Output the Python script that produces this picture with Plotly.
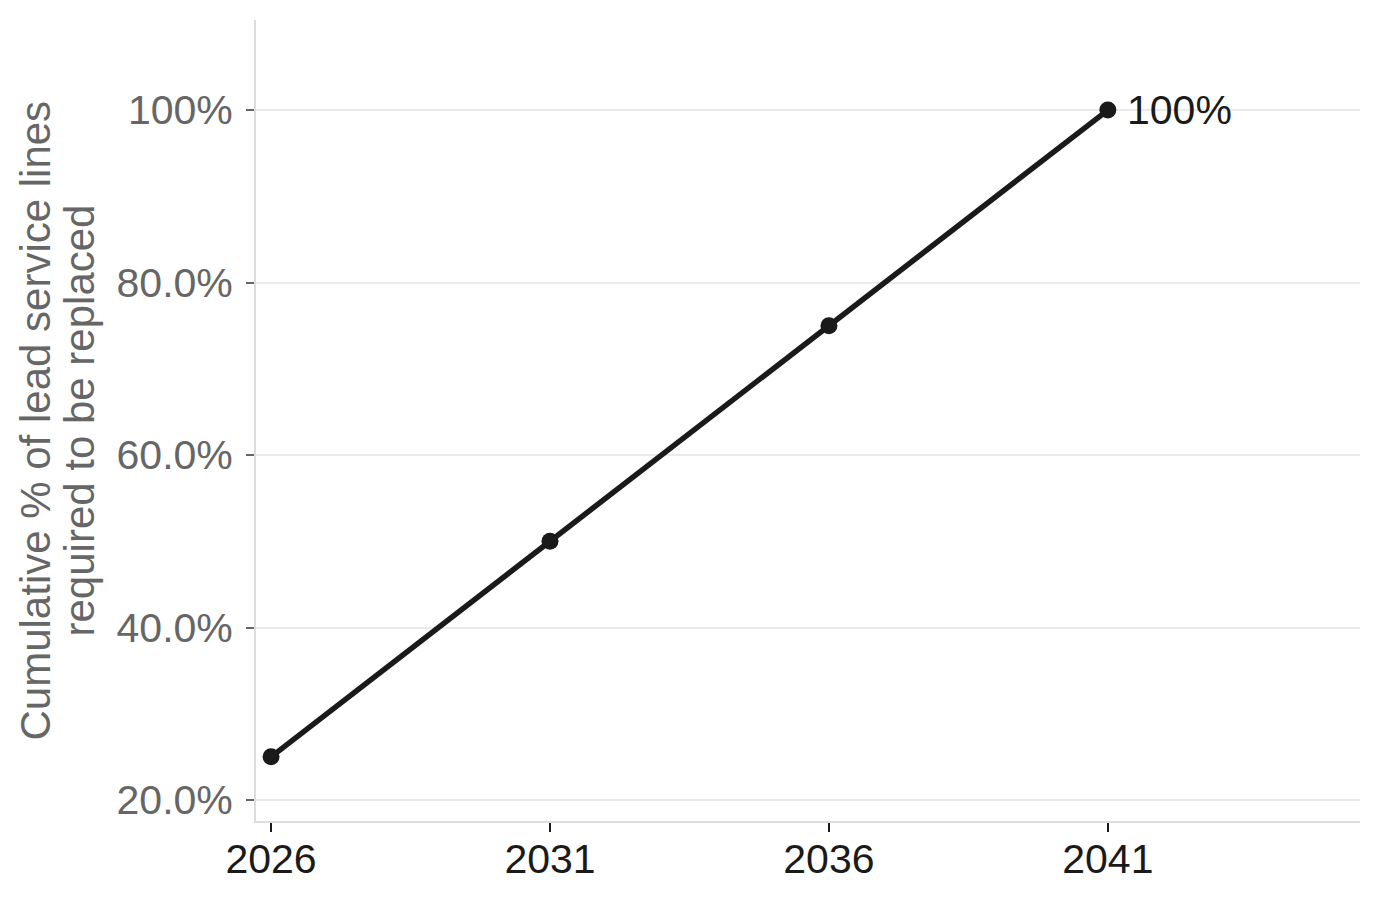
import plotly.graph_objects as go

# data
years = [2026, 2031, 2036, 2041]
cumulative_pct = [25, 50, 75, 100]
y_tick_vals = [20, 40, 60, 80, 100]
y_tick_text = ["20.0%", "40.0%", "60.0%", "80.0%", "100%"]
end_label = "100%"
y_title_lines = ["Cumulative % of lead service lines", "required to be replaced"]

font_family = "Liberation Sans, Arial, Helvetica, sans-serif"

fig = go.Figure()

fig.add_trace(go.Scatter(
    x=years,
    y=cumulative_pct,
    mode="lines+markers",
    line=dict(color="#1a1a1a", width=5.5),
    marker=dict(color="#1a1a1a", size=17),
    showlegend=False,
    hoverinfo="skip",
))

# label at the last point
fig.add_annotation(
    x=years[-1], y=cumulative_pct[-1],
    text=end_label,
    showarrow=False,
    xanchor="left", yanchor="middle",
    xshift=17,
    font=dict(family=font_family, size=41, color="#1a1a1a"),
)

# y axis title as two rotated lines (tighter line spacing than axis titles allow)
for line, shift in zip(y_title_lines, [-221, -177]):
    fig.add_annotation(
        x=0, y=0.5, xref="paper", yref="paper",
        text=line, textangle=-90,
        showarrow=False,
        xanchor="center", yanchor="middle",
        xshift=shift,
        font=dict(family=font_family, size=42, color="#666666"),
    )

# the page body adds 8px around the plot, so the figure is sized to fit inside
fig.update_layout(
    width=1364, height=883,
    margin=dict(l=248, r=12, t=12, b=70),
    plot_bgcolor="white",
    paper_bgcolor="white",
    font=dict(family=font_family),
)

fig.update_xaxes(
    range=[2025.73, 2045.52],
    tickvals=years,
    ticktext=[str(y) for y in years],
    showgrid=False,
    zeroline=False,
    automargin=False,
    showline=True, linecolor="#dddddd", linewidth=2,
    ticks="outside", ticklen=9, tickwidth=2, tickcolor="#1a1a1a",
    ticklabelstandoff=-8,
    tickfont=dict(family=font_family, size=41, color="#1a1a1a"),
)

fig.update_yaxes(
    range=[17.56, 110.45],
    tickvals=y_tick_vals,
    ticktext=y_tick_text,
    showgrid=True, gridcolor="#ebebeb", gridwidth=2,
    zeroline=False,
    automargin=False,
    showline=True, linecolor="#dddddd", linewidth=2,
    ticks="outside", ticklen=8, tickwidth=2, tickcolor="#666666",
    ticklabelstandoff=5,
    tickfont=dict(family=font_family, size=41, color="#666666"),
)

fig.write_html("out.html")
